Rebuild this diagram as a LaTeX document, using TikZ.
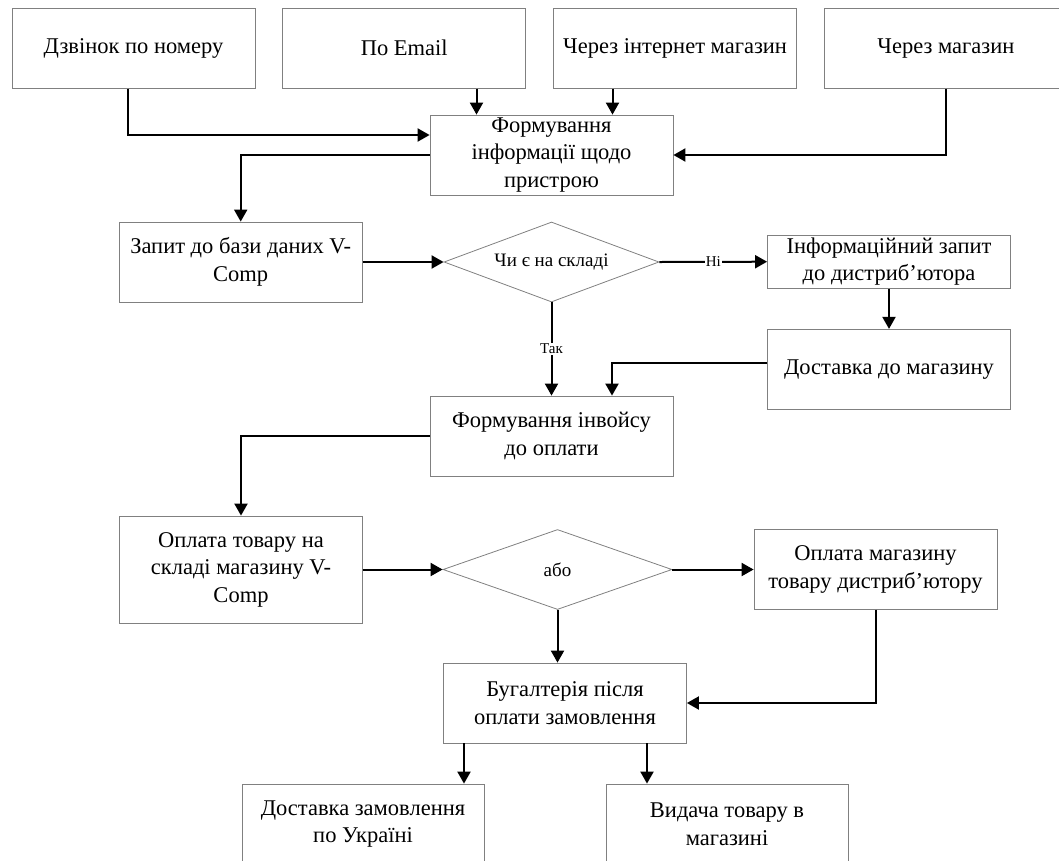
\documentclass[tikz,border=0pt]{standalone}
\usepackage{fontspec}
\setmainfont{Liberation Serif}
\usetikzlibrary{arrows.meta,positioning,shapes.geometric}

\begin{document}
\begin{tikzpicture}[x=1pt,y=-1pt,node distance=27pt and 27pt,font=\fontsize{22.5}{27.5}\selectfont,box/.style={draw=gray,line width=0.8pt,align=center,minimum width=243pt,minimum height=80pt,inner sep=1pt},dec/.style={draw=gray,line width=0.8pt,diamond,aspect=2.7,minimum width=215pt,minimum height=80pt,inner sep=0pt,font=\fontsize{19}{22}\selectfont},arr/.style={line width=2pt,-{Triangle[length=12pt,width=13pt]}},lbl/.style={fill=white,inner sep=1pt,font=\fontsize{15}{18}\selectfont}]
\clip (0,0) rectangle (1059,860);
\node[box] (call) at (133.5,48.3) {Дзвінок по номеру};
\node[box,right=of call] (mail) {По Email};
\node[box,right=of mail] (web) {Через інтернет магазин};
\node[box,right=of web] (shop) {Через магазин};
\node[box] (form) at (551.5,155) {Формування\\інформації щодо\\пристрою};
\node[box] (query) at (240.7,262) {Запит до бази даних V-\\Comp};
\node[dec] (stock) at (551.5,262) {Чи є на складі};
\node[box,minimum height=53pt] (ask) at (889,261.7) {Інформаційний запит\\до дистриб’ютора};
\node[box] (deliv) at (889,369.3) {Доставка до магазину};
\node[box] (inv) at (551.5,436) {Формування інвойсу\\до оплати};
\node[box,minimum height=107pt] (pay) at (241,569.5) {Оплата товару на\\складі магазину V-\\Comp};
\node[dec,minimum width=229pt] (pick) at (557.5,569.5) {або};
\node[box] (payd) at (875.5,569.5) {Оплата магазину\\товару дистриб’ютору};
\node[box] (acc) at (565,703) {Бугалтерія після\\оплати замовлення};
\node[box,minimum width=242pt] (post) at (363,824) {Доставка замовлення\\по Україні};
\node[box,minimum width=242pt] (give) at (727,824) {Видача товару в\\магазині};
\draw[arr]([xshift=-6pt]call.south) |- ([yshift=20pt]form.west);
\draw[arr]([xshift=-75pt]form.north |- mail.south) -- ([xshift=-75pt]form.north);
\draw[arr]([xshift=61pt]form.north |- web.south) -- ([xshift=61pt]form.north);
\draw[arr](shop.south) |- (form.east);\draw[arr](form.west) -| (query.north);
\draw[arr](query.east) -- (stock.west);\draw[arr](stock.east) -- node[lbl]{Ні} (ask.west);
\draw[arr](ask.south) -- (deliv.north);\draw[arr]([yshift=6.6pt]deliv.west) -| ([xshift=60.5pt]inv.north);
\draw[arr](stock.south) -- node[lbl]{Так} (inv.north);\draw[arr](inv.west) -| (pay.north);
\draw[arr](pay.east) -- (pick.west);\draw[arr](pick.east) -- (payd.west);
\draw[arr](pick.south) -- (pick.south |- acc.north);\draw[arr](payd.south) |- (acc.east);
\draw[arr]([xshift=-101pt]acc.south) -- ([xshift=-101pt]acc.south |- post.north);
\draw[arr]([xshift=82pt]acc.south) -- ([xshift=82pt]acc.south |- give.north);
\end{tikzpicture}
\end{document}
